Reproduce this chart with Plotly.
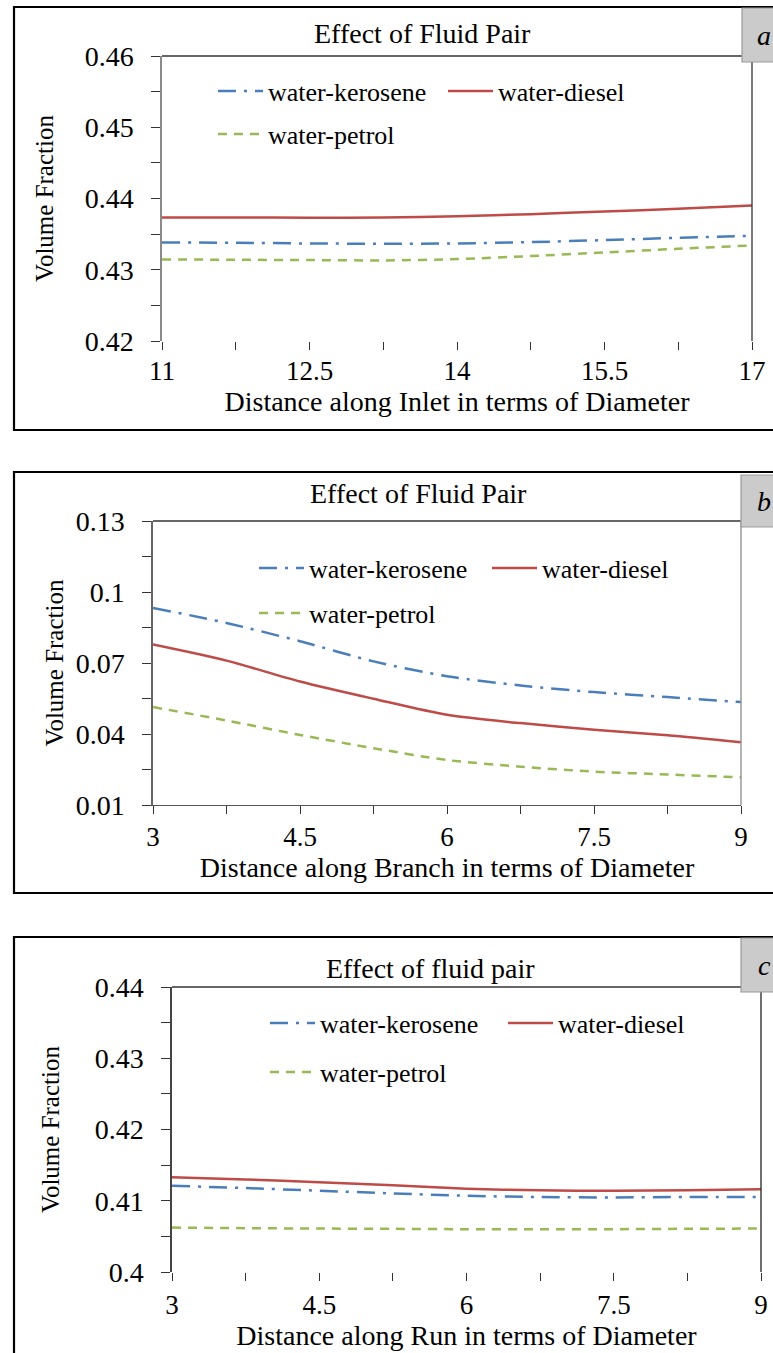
import plotly.graph_objects as go

W, H = 773, 1353
FONT = "Liberation Serif, Times New Roman, serif"

SERIES = ["water-kerosene", "water-diesel", "water-petrol"]
COLORS = {"water-kerosene": "#4A7EBB", "water-diesel": "#BE4B48", "water-petrol": "#98B954"}
DASHES = {"water-kerosene": "18px,8px,3px,8px", "water-diesel": "solid", "water-petrol": "9px,7px"}

# ---------------- Panel a : Inlet ----------------
a_x = [11, 11.75, 12.5, 13.25, 14, 14.75, 15.5, 16.25, 17]
a_kerosene = [0.43383, 0.43379, 0.43369, 0.43365, 0.43369, 0.43388, 0.43416, 0.43449, 0.43477]
a_diesel = [0.43734, 0.43734, 0.43731, 0.43734, 0.43752, 0.43780, 0.43818, 0.43855, 0.43902]
a_petrol = [0.43145, 0.43140, 0.43136, 0.43131, 0.43150, 0.43192, 0.43243, 0.43294, 0.43341]
a_ytickvals = [0.42, 0.425, 0.43, 0.435, 0.44, 0.445, 0.45, 0.455, 0.46]
a_yticktext = ["0.42", "", "0.43", "", "0.44", "", "0.45", "", "0.46"]
a_xtickvals = [11, 11.75, 12.5, 13.25, 14, 14.75, 15.5, 16.25, 17]
a_xticktext = ["11", "", "12.5", "", "14", "", "15.5", "", "17"]
a_title = "Effect of Fluid Pair"
a_xlabel = "Distance along Inlet in terms of Diameter"

# ---------------- Panel b : Branch ----------------
b_x = [3, 3.75, 4.5, 5.25, 6, 6.75, 7.5, 8.25, 9]
b_kerosene = [0.0933, 0.0869, 0.0792, 0.0707, 0.0644, 0.0605, 0.0577, 0.0556, 0.0535]
b_diesel = [0.0778, 0.0710, 0.0622, 0.0549, 0.0481, 0.0446, 0.0418, 0.0395, 0.0365]
b_petrol = [0.0514, 0.0457, 0.0396, 0.0340, 0.0290, 0.0262, 0.0241, 0.0229, 0.0217]
b_ytickvals = [0.01, 0.025, 0.04, 0.055, 0.07, 0.085, 0.1, 0.115, 0.13]
b_yticktext = ["0.01", "", "0.04", "", "0.07", "", "0.1", "", "0.13"]
b_xtickvals = [3, 3.75, 4.5, 5.25, 6, 6.75, 7.5, 8.25, 9]
b_xticktext = ["3", "", "4.5", "", "6", "", "7.5", "", "9"]
b_title = "Effect of Fluid Pair"
b_xlabel = "Distance along Branch in terms of Diameter"

# ---------------- Panel c : Run ----------------
c_x = [3, 3.75, 4.5, 5.25, 6, 6.75, 7.5, 8.25, 9]
c_kerosene = [0.41211, 0.41178, 0.41141, 0.41103, 0.41070, 0.41052, 0.41047, 0.41052, 0.41052]
c_diesel = [0.41329, 0.41300, 0.41258, 0.41216, 0.41169, 0.41146, 0.41141, 0.41146, 0.41160]
c_petrol = [0.40624, 0.40615, 0.40610, 0.40606, 0.40601, 0.40601, 0.40601, 0.40606, 0.40610]
c_ytickvals = [0.40, 0.405, 0.41, 0.415, 0.42, 0.425, 0.43, 0.435, 0.44]
c_yticktext = ["0.4", "", "0.41", "", "0.42", "", "0.43", "", "0.44"]
c_xtickvals = [3, 3.75, 4.5, 5.25, 6, 6.75, 7.5, 8.25, 9]
c_xticktext = ["3", "", "4.5", "", "6", "", "7.5", "", "9"]
c_title = "Effect of fluid pair"
c_xlabel = "Distance along Run in terms of Diameter"

ylabel = "Volume Fraction"
panel_letters = ["a", "b", "c"]


def px_x(p):
    return p / W


def px_y(p):
    return 1 - p / H


panels = [
    dict(x=a_x, ys=[a_kerosene, a_diesel, a_petrol], yt=(a_ytickvals, a_yticktext),
         xt=(a_xtickvals, a_xticktext), title=a_title, xlabel=a_xlabel,
         xr=[11, 17], yr=[0.42, 0.46],
         plot=(162, 752, 56, 341), frame=(14, 7, 430), box=(742, 8, 62),
         title_pos=(423, 33), xline=False, ylinecolor="#8a8a8a", rline="#333333",
         ystand=24, xstand=-2, leg=[(268, 91), (498, 91), (268, 134)]),
    dict(x=b_x, ys=[b_kerosene, b_diesel, b_petrol], yt=(b_ytickvals, b_yticktext),
         xt=(b_xtickvals, b_xticktext), title=b_title, xlabel=b_xlabel,
         xr=[3, 9], yr=[0.01, 0.13],
         plot=(153, 741, 521, 805), frame=(14, 472, 893), box=(741, 475, 527),
         title_pos=(418, 493), xline=True, ylinecolor="#666666", rline="#8a8a8a",
         ystand=5, xstand=-1, leg=[(309, 568), (542, 568), (309, 613)]),
    dict(x=c_x, ys=[c_kerosene, c_diesel, c_petrol], yt=(c_ytickvals, c_yticktext),
         xt=(c_xtickvals, c_xticktext), title=c_title, xlabel=c_xlabel,
         xr=[3, 9], yr=[0.40, 0.44],
         plot=(172, 761, 987, 1272), frame=(14, 937, 1365), box=(741, 938, 992),
         title_pos=(430, 968), xline=False, ylinecolor="#444444", rline="#222222",
         ystand=28, xstand=1, leg=[(320, 1023), (558, 1023), (320, 1072)]),
]

fig = go.Figure()
layout = dict(
    width=W, height=H, margin=dict(l=0, r=0, t=0, b=0, pad=0, autoexpand=False),
    paper_bgcolor="white", plot_bgcolor="white",
    font=dict(family=FONT, color="black"),
    showlegend=True,
)
shapes = []
annotations = []
legend_idx = 0

for i, p in enumerate(panels):
    n = "" if i == 0 else str(i + 1)
    xa, ya = "x" + n, "y" + n
    x0, x1, y0, y1 = p["plot"]
    for s, yv in zip(SERIES, p["ys"]):
        legend_idx += 1
        lname = "legend" if legend_idx == 1 else "legend%d" % legend_idx
        fig.add_trace(go.Scatter(
            x=p["x"], y=yv, name=s, mode="lines", xaxis=xa, yaxis=ya,
            line=dict(color=COLORS[s], width=2.5, dash=DASHES[s], shape="spline", smoothing=0.8),
            legend=lname, hoverinfo="x+y+name",
        ))
        lx, ly = p["leg"][SERIES.index(s)]
        layout[lname] = dict(
            x=px_x(lx - 55), y=px_y(ly), xanchor="left", yanchor="middle",
            orientation="h", bgcolor="rgba(0,0,0,0)", borderwidth=0,
            font=dict(family=FONT, size=26, color="black"), itemwidth=45,
        )
    layout["xaxis" + n] = dict(
        domain=[px_x(x0), px_x(x1)], anchor=ya, range=p["xr"], automargin=False,
        tickmode="array", tickvals=p["xt"][0], ticktext=p["xt"][1],
        ticks="outside", ticklen=8, tickwidth=1.2, tickcolor="#333333",
        showline=p["xline"], linecolor="#555555", linewidth=1.3,
        showgrid=False, zeroline=False, ticklabelstandoff=p["xstand"],
        tickfont=dict(family=FONT, size=27, color="black"),
        title=dict(text=p["xlabel"], font=dict(family=FONT, size=28, color="black"), standoff=0),
    )
    layout["yaxis" + n] = dict(
        domain=[px_y(y1), px_y(y0)], anchor=xa, range=p["yr"], automargin=False,
        tickmode="array", tickvals=p["yt"][0], ticktext=p["yt"][1],
        ticks="outside", ticklen=9, tickwidth=1.2, tickcolor="#333333",
        showline=True, linecolor=p["ylinecolor"], linewidth=1.5,
        showgrid=False, zeroline=False, ticklabelstandoff=12,
        tickfont=dict(family=FONT, size=28, color="black"),
        title=dict(text=ylabel, font=dict(family=FONT, size=25, color="black"), standoff=p["ystand"]),
    )
    # top and right border of plot area
    shapes.append(dict(type="line", xref=xa + " domain", yref=ya + " domain",
                       x0=0, x1=1, y0=1, y1=1, line=dict(color="#333333", width=1.3), layer="above"))
    shapes.append(dict(type="line", xref=xa + " domain", yref=ya + " domain",
                       x0=1, x1=1, y0=0, y1=1, line=dict(color=p["rline"], width=1.3), layer="above"))
    # outer frame
    fx0, fy0, fy1 = p["frame"]
    shapes.append(dict(type="rect", xref="paper", yref="paper",
                       x0=px_x(fx0), x1=px_x(W + 10), y0=px_y(fy1), y1=px_y(fy0),
                       line=dict(color="black", width=2.2), layer="above"))
    # panel letter box
    bx0, by0, by1 = p["box"]
    shapes.append(dict(type="rect", xref="paper", yref="paper",
                       x0=px_x(bx0), x1=px_x(W + 10), y0=px_y(by1), y1=px_y(by0),
                       fillcolor="#cbcbcb", line=dict(color="#9c9c9c", width=1.2), layer="above"))
    annotations.append(dict(text="<i>%s</i>" % panel_letters[i], xref="paper", yref="paper",
                            x=px_x(764), y=px_y((by0 + by1) / 2), xanchor="center", yanchor="middle",
                            showarrow=False, font=dict(family=FONT, size=28, color="black")))
    tx, ty = p["title_pos"]
    annotations.append(dict(text=p["title"], xref="paper", yref="paper",
                            x=px_x(tx), y=px_y(ty), xanchor="center", yanchor="middle",
                            showarrow=False, font=dict(family=FONT, size=28, color="black")))

layout["shapes"] = shapes
layout["annotations"] = annotations
fig.update_layout(**layout)
fig.write_html("out.html")
